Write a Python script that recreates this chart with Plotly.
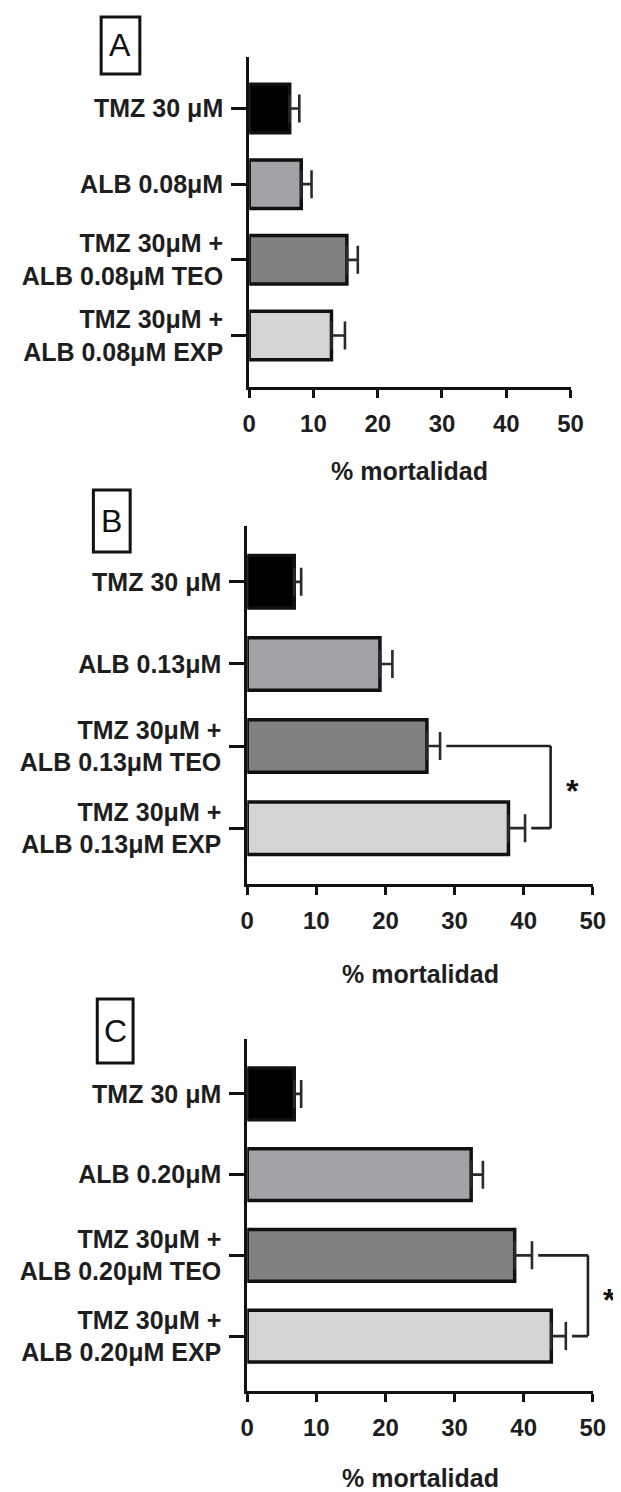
import plotly.graph_objects as go

# ---------------- data ----------------
labels_A = ["TMZ 30 μM", "ALB 0.08μM", "TMZ 30μM +<br>ALB 0.08μM TEO", "TMZ 30μM +<br>ALB 0.08μM EXP"]
values_A = [6.3, 8.1, 15.2, 12.8]
errors_A = [1.5, 1.6, 1.7, 2.1]

labels_B = ["TMZ 30 μM", "ALB 0.13μM", "TMZ 30μM +<br>ALB 0.13μM TEO", "TMZ 30μM +<br>ALB 0.13μM EXP"]
values_B = [6.8, 19.2, 26.0, 37.8]
errors_B = [1.0, 1.8, 1.9, 2.4]

labels_C = ["TMZ 30 μM", "ALB 0.20μM", "TMZ 30μM +<br>ALB 0.20μM TEO", "TMZ 30μM +<br>ALB 0.20μM EXP"]
values_C = [6.8, 32.4, 38.7, 44.0]
errors_C = [1.0, 1.7, 2.5, 2.1]

x_ticks = [0, 10, 20, 30, 40, 50]
panel_letters = ["A", "B", "C"]
axis_title = "% mortalidad"
significance = "*"

bar_colors = ["#000000", "#a2a2a7", "#818181", "#d4d4d4"]

W, H = 621, 1492
FONT = "Liberation Sans, Arial, sans-serif"


def px_x(x):
    return x / W


def px_y(y):
    return 1 - y / H


# layout geometry (pixels): x-axis left/right, y-axis top/bottom
panels = [
    dict(labels=labels_A, values=values_A, errors=errors_A,
         x0=242, x1=574, top=49, bottom=379, box=(89, 9, 129, 66),
         title_y=463, bracket=None),
    dict(labels=labels_B, values=values_B, errors=errors_B,
         x0=240, x1=597, top=518, bottom=876, box=(81, 482, 119, 544),
         title_y=966, bracket=43.9),
    dict(labels=labels_C, values=values_C, errors=errors_C,
         x0=240, x1=597, top=1031, bottom=1383, box=(85, 991, 122, 1055),
         title_y=1470, bracket=49.3),
]

fig = go.Figure()
shapes = []
annotations = []
layout_axes = {}

for i, p in enumerate(panels):
    n = i + 1
    xa = "x" if n == 1 else f"x{n}"
    ya = "y" if n == 1 else f"y{n}"
    xkey = "xaxis" if n == 1 else f"xaxis{n}"
    ykey = "yaxis" if n == 1 else f"yaxis{n}"
    pos = list(range(len(p["labels"])))

    fig.add_trace(go.Bar(
        x=p["values"], y=pos, orientation="h",
        marker=dict(color=bar_colors, line=dict(color="#111111", width=3.5)),
        width=0.64,
        error_x=dict(type="data", symmetric=False, array=p["errors"],
                     arrayminus=[0] * len(pos), color="#2a2a2a",
                     thickness=2.6, width=14),
        xaxis=xa, yaxis=ya, showlegend=False, hoverinfo="skip",
    ))

    layout_axes[xkey] = dict(
        domain=[px_x(p["x0"]), px_x(p["x1"])], anchor=ya,
        range=[0, 50], tickvals=x_ticks, ticktext=[str(t) for t in x_ticks],
        showgrid=False, zeroline=False, showline=True, linecolor="#111111",
        linewidth=3, ticks="outside", ticklen=8, tickwidth=2.5, tickcolor="#111111",
        tickfont=dict(family=FONT, size=24, color="#1e1e1e", weight="bold"),
        ticklabelstandoff=5, fixedrange=True,
    )
    layout_axes[ykey] = dict(
        domain=[px_y(p["bottom"]), px_y(p["top"])], anchor=xa,
        range=[3.68, -0.68], tickvals=pos, ticktext=p["labels"],
        showgrid=False, zeroline=False, showline=True, linecolor="#111111",
        linewidth=3, ticks="outside", ticklen=15, tickwidth=2.5, tickcolor="#111111",
        tickfont=dict(family=FONT, size=25, color="#1e1e1e", weight="bold"),
        ticklabelstandoff=3, fixedrange=True,
    )

    # panel letter box
    bx0, by0, bx1, by1 = p["box"]
    shapes.append(dict(type="rect", xref="paper", yref="paper",
                       x0=px_x(bx0), x1=px_x(bx1), y0=px_y(by1), y1=px_y(by0),
                       line=dict(color="#111111", width=3)))
    annotations.append(dict(text=panel_letters[i], xref="paper", yref="paper",
                            x=px_x((bx0 + bx1) / 2), y=px_y((by0 + by1) / 2),
                            xanchor="center", yanchor="middle", showarrow=False,
                            font=dict(family=FONT, size=32, color="#111111")))
    # axis title
    annotations.append(dict(text=axis_title, xref="paper", yref="paper",
                            x=px_x((p["x0"] + p["x1"]) / 2), y=px_y(p["title_y"]),
                            xanchor="center", yanchor="middle", showarrow=False,
                            font=dict(family=FONT, size=25, color="#1e1e1e", weight="bold")))

    # significance bracket between TEO (2) and EXP (3)
    if p["bracket"] is not None:
        bxv = p["bracket"]
        s2 = p["values"][2] + p["errors"][2] + 0.9
        s3 = p["values"][3] + p["errors"][3] + 0.9
        line = dict(color="#222222", width=2.6)
        shapes.append(dict(type="line", xref=xa, yref=ya, x0=s2, x1=bxv, y0=2, y1=2, line=line))
        shapes.append(dict(type="line", xref=xa, yref=ya, x0=bxv, x1=bxv, y0=2, y1=3, line=line))
        shapes.append(dict(type="line", xref=xa, yref=ya, x0=s3, x1=bxv, y0=3, y1=3, line=line))
        annotations.append(dict(text=significance, xref=xa, yref=ya, x=bxv, y=2.5,
                                xanchor="center", yanchor="middle", xshift=22, yshift=-4,
                                showarrow=False,
                                font=dict(family=FONT, size=32, color="#111111", weight="bold")))

fig.update_layout(
    width=W, height=H, margin=dict(l=0, r=0, t=0, b=0),
    paper_bgcolor="white", plot_bgcolor="white",
    shapes=shapes, annotations=annotations, bargap=0.36,
    **layout_axes,
)

fig.write_html("out.html")
